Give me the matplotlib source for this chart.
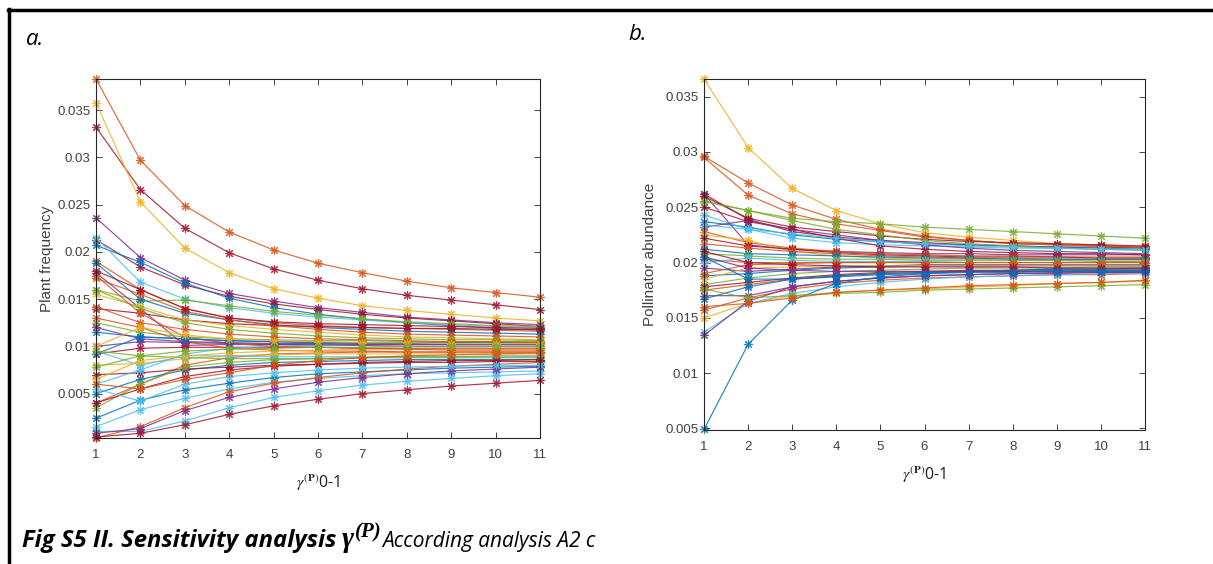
import matplotlib.pyplot as plt
from matplotlib.lines import Line2D

plt.rcParams['mathtext.fontset'] = 'stix'

steps = list(range(1, 12))
yticks = [0.005, 0.01, 0.015, 0.02, 0.025, 0.03, 0.035]
ytick_labels = ['0.005', '0.01', '0.015', '0.02', '0.025', '0.03', '0.035']

# MATLAB default colour order
mcol = {'b': '#0072BD', 'o': '#D95319', 'y': '#EDB120', 'p': '#7E2F8E',
        'g': '#77AC30', 'c': '#4DBEEE', 'r': '#A2142F'}

# panel a - plant frequency, one row per plant
plant_freq = [
    [0.0383, 0.0297, 0.0249, 0.0221, 0.0202, 0.0188, 0.0178, 0.0169, 0.0162, 0.0157, 0.0152],
    [0.0332, 0.0266, 0.0225, 0.0199, 0.0182, 0.0170, 0.0161, 0.0154, 0.0149, 0.0144, 0.0139],
    [0.0358, 0.0253, 0.0204, 0.0178, 0.0161, 0.0151, 0.0143, 0.0138, 0.0134, 0.0130, 0.0127],
    [0.0236, 0.0194, 0.0170, 0.0156, 0.0148, 0.0141, 0.0136, 0.0131, 0.0128, 0.0125, 0.0123],
    [0.0213, 0.0184, 0.0165, 0.0153, 0.0145, 0.0139, 0.0134, 0.0130, 0.0127, 0.0124, 0.0121],
    [0.0207, 0.0189, 0.0167, 0.0151, 0.0141, 0.0134, 0.0129, 0.0125, 0.0122, 0.0119, 0.0117],
    [0.0215, 0.0168, 0.0150, 0.0141, 0.0135, 0.0131, 0.0128, 0.0125, 0.0123, 0.0121, 0.0120],
    [0.0160, 0.0148, 0.0149, 0.0143, 0.0137, 0.0133, 0.0129, 0.0126, 0.0124, 0.0122, 0.0121],
    [0.0190, 0.0160, 0.0140, 0.0130, 0.0125, 0.0122, 0.0120, 0.0119, 0.0118, 0.0117, 0.0116],
    [0.0188, 0.0150, 0.0135, 0.0128, 0.0123, 0.0120, 0.0118, 0.0116, 0.0115, 0.0114, 0.0113],
    [0.0140, 0.0135, 0.0128, 0.0124, 0.0122, 0.0121, 0.0120, 0.0119, 0.0119, 0.0118, 0.0118],
    [0.0178, 0.0140, 0.0101, 0.0102, 0.0102, 0.0102, 0.0102, 0.0102, 0.0102, 0.0102, 0.0102],
    [0.0155, 0.0142, 0.0128, 0.0122, 0.0118, 0.0115, 0.0112, 0.0110, 0.0109, 0.0108, 0.0107],
    [0.0172, 0.0155, 0.0137, 0.0128, 0.0122, 0.0118, 0.0115, 0.0113, 0.0112, 0.0111, 0.0110],
    [0.0125, 0.0115, 0.0110, 0.0108, 0.0107, 0.0106, 0.0106, 0.0105, 0.0105, 0.0105, 0.0105],
    [0.0115, 0.0110, 0.0108, 0.0106, 0.0105, 0.0104, 0.0103, 0.0103, 0.0102, 0.0102, 0.0102],
    [0.0100, 0.0105, 0.0104, 0.0103, 0.0102, 0.0101, 0.0101, 0.0100, 0.0100, 0.0100, 0.0100],
    [0.0092, 0.0098, 0.0099, 0.0099, 0.0099, 0.0099, 0.0098, 0.0098, 0.0098, 0.0098, 0.0098],
    [0.0130, 0.0120, 0.0105, 0.0098, 0.0096, 0.0095, 0.0095, 0.0094, 0.0094, 0.0094, 0.0094],
    [0.0040, 0.0060, 0.0080, 0.0088, 0.0092, 0.0093, 0.0094, 0.0094, 0.0094, 0.0094, 0.0094],
    [0.0080, 0.0082, 0.0087, 0.0090, 0.0091, 0.0092, 0.0092, 0.0092, 0.0092, 0.0092, 0.0092],
    [0.0078, 0.0090, 0.0088, 0.0087, 0.0087, 0.0087, 0.0088, 0.0088, 0.0088, 0.0088, 0.0088],
    [0.0095, 0.0080, 0.0090, 0.0090, 0.0089, 0.0089, 0.0089, 0.0089, 0.0089, 0.0089, 0.0089],
    [0.0050, 0.0065, 0.0075, 0.0080, 0.0083, 0.0084, 0.0085, 0.0086, 0.0086, 0.0086, 0.0086],
    [0.0070, 0.0072, 0.0076, 0.0078, 0.0080, 0.0081, 0.0082, 0.0083, 0.0083, 0.0084, 0.0084],
    [0.0024, 0.0043, 0.0054, 0.0061, 0.0067, 0.0071, 0.0073, 0.0075, 0.0077, 0.0078, 0.0079],
    [0.0015, 0.0033, 0.0045, 0.0055, 0.0062, 0.0066, 0.0069, 0.0071, 0.0072, 0.0073, 0.0074],
    [0.0010, 0.0010, 0.0021, 0.0035, 0.0046, 0.0053, 0.0059, 0.0063, 0.0066, 0.0069, 0.0071],
    [0.0003, 0.0015, 0.0035, 0.0052, 0.0061, 0.0067, 0.0072, 0.0076, 0.0079, 0.0081, 0.0083],
    [0.0008, 0.0013, 0.0032, 0.0046, 0.0055, 0.0062, 0.0067, 0.0071, 0.0074, 0.0076, 0.0078],
    [0.0004, 0.0008, 0.0017, 0.0028, 0.0037, 0.0044, 0.0050, 0.0054, 0.0058, 0.0061, 0.0064],
    [0.0160, 0.0140, 0.0125, 0.0118, 0.0114, 0.0111, 0.0109, 0.0108, 0.0107, 0.0107, 0.0106],
    [0.0060, 0.0075, 0.0092, 0.0098, 0.0100, 0.0101, 0.0102, 0.0102, 0.0102, 0.0102, 0.0102],
    [0.0065, 0.0085, 0.0090, 0.0093, 0.0095, 0.0096, 0.0097, 0.0097, 0.0097, 0.0097, 0.0097],
    [0.0175, 0.0135, 0.0110, 0.0103, 0.0100, 0.0099, 0.0098, 0.0097, 0.0096, 0.0096, 0.0096],
    [0.0120, 0.0108, 0.0105, 0.0104, 0.0103, 0.0103, 0.0102, 0.0102, 0.0102, 0.0102, 0.0102],
    [0.0092, 0.0110, 0.0108, 0.0106, 0.0105, 0.0104, 0.0104, 0.0104, 0.0104, 0.0104, 0.0104],
    [0.0035, 0.0060, 0.0078, 0.0083, 0.0086, 0.0087, 0.0088, 0.0089, 0.0089, 0.0090, 0.0090],
    [0.0142, 0.0125, 0.0118, 0.0113, 0.0110, 0.0108, 0.0107, 0.0106, 0.0105, 0.0105, 0.0104],
    [0.0180, 0.0160, 0.0140, 0.0130, 0.0126, 0.0124, 0.0123, 0.0122, 0.0121, 0.0120, 0.0119],
    [0.0040, 0.0055, 0.0068, 0.0075, 0.0079, 0.0081, 0.0083, 0.0084, 0.0085, 0.0085, 0.0086],
    [0.0100, 0.0120, 0.0112, 0.0108, 0.0106, 0.0105, 0.0104, 0.0104, 0.0103, 0.0103, 0.0103],
    [0.0055, 0.0042, 0.0060, 0.0068, 0.0072, 0.0075, 0.0077, 0.0078, 0.0079, 0.0080, 0.0080],
    [0.0060, 0.0055, 0.0065, 0.0072, 0.0080, 0.0085, 0.0088, 0.0090, 0.0091, 0.0092, 0.0093],
    [0.0095, 0.0090, 0.0095, 0.0097, 0.0098, 0.0099, 0.0099, 0.0100, 0.0100, 0.0100, 0.0100],
]
plant_colors = 'oryprbcgobrpyogbproo' + 'ygcbrbccop' + 'rgcyopbgor' + 'rycog'

# panel b - pollinator abundance, one row per pollinator
poll_abund = [
    [0.0366, 0.0304, 0.0267, 0.0247, 0.0235, 0.0227, 0.0223, 0.0220, 0.0217, 0.0216, 0.0214],
    [0.0296, 0.0272, 0.0252, 0.0239, 0.0230, 0.0224, 0.0220, 0.0217, 0.0216, 0.0215, 0.0214],
    [0.0295, 0.0261, 0.0244, 0.0235, 0.0229, 0.0223, 0.0220, 0.0217, 0.0216, 0.0215, 0.0214],
    [0.0256, 0.0247, 0.0240, 0.0237, 0.0235, 0.0232, 0.0230, 0.0228, 0.0226, 0.0224, 0.0222],
    [0.0262, 0.0239, 0.0228, 0.0223, 0.0220, 0.0218, 0.0216, 0.0215, 0.0214, 0.0214, 0.0213],
    [0.0262, 0.0216, 0.0212, 0.0210, 0.0209, 0.0208, 0.0208, 0.0207, 0.0207, 0.0207, 0.0207],
    [0.0237, 0.0232, 0.0225, 0.0221, 0.0219, 0.0217, 0.0216, 0.0215, 0.0214, 0.0213, 0.0212],
    [0.0243, 0.0230, 0.0222, 0.0218, 0.0216, 0.0215, 0.0214, 0.0213, 0.0213, 0.0212, 0.0212],
    [0.0250, 0.0237, 0.0230, 0.0222, 0.0215, 0.0212, 0.0210, 0.0209, 0.0208, 0.0208, 0.0207],
    [0.0232, 0.0238, 0.0230, 0.0225, 0.0220, 0.0216, 0.0213, 0.0211, 0.0210, 0.0209, 0.0208],
    [0.0228, 0.0218, 0.0213, 0.0210, 0.0208, 0.0207, 0.0206, 0.0206, 0.0205, 0.0205, 0.0205],
    [0.0225, 0.0220, 0.0210, 0.0206, 0.0204, 0.0203, 0.0203, 0.0202, 0.0202, 0.0202, 0.0202],
    [0.0222, 0.0215, 0.0212, 0.0209, 0.0207, 0.0206, 0.0205, 0.0205, 0.0205, 0.0204, 0.0204],
    [0.0217, 0.0213, 0.0210, 0.0208, 0.0206, 0.0205, 0.0204, 0.0204, 0.0203, 0.0203, 0.0203],
    [0.0212, 0.0208, 0.0207, 0.0206, 0.0205, 0.0204, 0.0204, 0.0203, 0.0203, 0.0203, 0.0203],
    [0.0208, 0.0206, 0.0204, 0.0203, 0.0203, 0.0202, 0.0202, 0.0202, 0.0202, 0.0201, 0.0201],
    [0.0203, 0.0200, 0.0200, 0.0200, 0.0200, 0.0200, 0.0200, 0.0200, 0.0200, 0.0200, 0.0200],
    [0.0200, 0.0204, 0.0202, 0.0201, 0.0201, 0.0201, 0.0200, 0.0200, 0.0200, 0.0200, 0.0200],
    [0.0195, 0.0192, 0.0194, 0.0196, 0.0197, 0.0198, 0.0198, 0.0198, 0.0198, 0.0198, 0.0198],
    [0.0188, 0.0190, 0.0193, 0.0195, 0.0196, 0.0197, 0.0197, 0.0197, 0.0197, 0.0197, 0.0197],
    [0.0185, 0.0195, 0.0196, 0.0197, 0.0197, 0.0197, 0.0197, 0.0197, 0.0197, 0.0197, 0.0197],
    [0.0180, 0.0186, 0.0190, 0.0192, 0.0193, 0.0194, 0.0195, 0.0195, 0.0195, 0.0196, 0.0196],
    [0.0178, 0.0182, 0.0186, 0.0189, 0.0191, 0.0192, 0.0193, 0.0193, 0.0194, 0.0194, 0.0194],
    [0.0175, 0.0180, 0.0185, 0.0188, 0.0190, 0.0191, 0.0192, 0.0192, 0.0192, 0.0193, 0.0193],
    [0.0170, 0.0170, 0.0178, 0.0183, 0.0186, 0.0188, 0.0189, 0.0190, 0.0190, 0.0191, 0.0191],
    [0.0167, 0.0178, 0.0185, 0.0188, 0.0190, 0.0191, 0.0192, 0.0192, 0.0193, 0.0193, 0.0193],
    [0.0157, 0.0168, 0.0176, 0.0181, 0.0184, 0.0186, 0.0187, 0.0188, 0.0189, 0.0189, 0.0190],
    [0.0150, 0.0163, 0.0170, 0.0173, 0.0175, 0.0176, 0.0178, 0.0179, 0.0181, 0.0182, 0.0183],
    [0.0137, 0.0163, 0.0172, 0.0178, 0.0182, 0.0185, 0.0187, 0.0188, 0.0189, 0.0190, 0.0190],
    [0.0134, 0.0165, 0.0178, 0.0183, 0.0186, 0.0188, 0.0189, 0.0190, 0.0191, 0.0191, 0.0191],
    [0.0049, 0.0126, 0.0166, 0.0181, 0.0187, 0.0190, 0.0192, 0.0193, 0.0194, 0.0194, 0.0195],
    [0.0176, 0.0168, 0.0170, 0.0172, 0.0173, 0.0175, 0.0176, 0.0177, 0.0178, 0.0179, 0.0180],
    [0.0260, 0.0240, 0.0232, 0.0228, 0.0224, 0.0221, 0.0219, 0.0218, 0.0217, 0.0216, 0.0215],
    [0.0255, 0.0247, 0.0238, 0.0230, 0.0225, 0.0220, 0.0217, 0.0215, 0.0213, 0.0212, 0.0211],
    [0.0234, 0.0230, 0.0226, 0.0222, 0.0219, 0.0217, 0.0215, 0.0214, 0.0213, 0.0212, 0.0211],
    [0.0190, 0.0198, 0.0199, 0.0200, 0.0200, 0.0200, 0.0200, 0.0200, 0.0200, 0.0200, 0.0200],
    [0.0205, 0.0195, 0.0193, 0.0192, 0.0192, 0.0192, 0.0192, 0.0192, 0.0192, 0.0192, 0.0192],
    [0.0210, 0.0200, 0.0198, 0.0197, 0.0196, 0.0196, 0.0196, 0.0196, 0.0195, 0.0195, 0.0195],
    [0.0160, 0.0163, 0.0168, 0.0173, 0.0175, 0.0177, 0.0179, 0.0180, 0.0181, 0.0182, 0.0184],
    [0.0205, 0.0185, 0.0185, 0.0187, 0.0189, 0.0190, 0.0191, 0.0191, 0.0192, 0.0192, 0.0192],
]
poll_colors = 'yoogrpbcrp' + 'oyrobgocpb' + 'ygropboycp' + 'bgrgcoprob'

W, H = 1213, 564
fig = plt.figure(figsize=(W / 100, H / 100), dpi=100)

# page frame (top and left rule)
fig.add_artist(Line2D([7.5 / W, 1.0], [1 - 10 / H, 1 - 10 / H], color='black', lw=2.5))
fig.add_artist(Line2D([9 / W, 9 / W], [0, 1 - 8.5 / H], color='black', lw=2.5))

axc = '#262626'
tickc = '#404040'


def panel(rect, rows, colors, ylim, ylabel, ypad):
    ax = fig.add_axes(rect)
    for row, c in zip(rows, colors):
        ax.plot(steps, row, color=mcol[c], lw=0.85, alpha=0.85,
                marker=(8, 2, 0), ms=6.5, mew=0.8, clip_on=False)
    ax.set_xlim(1, 11)
    ax.set_ylim(*ylim)
    ax.set_xticks(steps)
    ax.set_yticks(yticks)
    ax.set_yticklabels(ytick_labels)
    ax.tick_params(direction='in', top=True, right=True, length=4, width=0.6,
                   color=axc, labelcolor=tickc, labelsize=9.5)
    ax.tick_params(axis='x', pad=8)
    ax.tick_params(axis='y', pad=4)
    for lab in ax.get_xticklabels() + ax.get_yticklabels():
        lab.set_family('Liberation Sans')
    for s in ax.spines.values():
        s.set_color(axc)
        s.set_linewidth(0.8)
    ax.set_ylabel(ylabel, family='Liberation Sans', fontsize=11, color=tickc, labelpad=ypad)
    ax.set_xlabel(r'$\gamma^{(\mathbf{P})}$0-1', family='Open Sans', fontsize=11.5,
                  color='#202020', labelpad=8)
    return ax


panel([96 / W, 1 - 438 / H, 444 / W, 359 / H], plant_freq, plant_colors,
      (0.0003, 0.0383), 'Plant frequency', 2)
panel([704 / W, 1 - 430 / H, 441 / W, 351 / H], poll_abund, poll_colors,
      (0.00485, 0.0366), 'Pollinator abundance', 6)

fig.text(26 / W, 1 - 45 / H, 'a.', family='Open Sans', style='italic', fontsize=16)
fig.text(628 / W, 1 - 40 / H, 'b.', family='Open Sans', style='italic', fontsize=16)

# caption, built from pieces
fig.canvas.draw()
rend = fig.canvas.get_renderer()
base = 1 - 547 / H
t1 = fig.text(22 / W, base, 'Fig S5 II. Sensitivity analysis ', family='Open Sans',
              style='italic', weight='bold', fontsize=17.2)
x1 = t1.get_window_extent(rend).x1
t2 = fig.text((x1 - 1) / W, base, '\u03b3', family='Liberation Serif', style='italic',
              weight='bold', fontsize=21)
x2 = t2.get_window_extent(rend).x1
t3 = fig.text((x2 + 1) / W, base + 10 / H, '(P)', family='Liberation Serif', style='italic',
              weight='bold', fontsize=15)
x3 = t3.get_window_extent(rend).x1
fig.text((x3 + 1) / W, base, 'According analysis A2 c', family='Open Sans', style='italic',
         fontsize=15)

fig.savefig('out.png', dpi=100)
